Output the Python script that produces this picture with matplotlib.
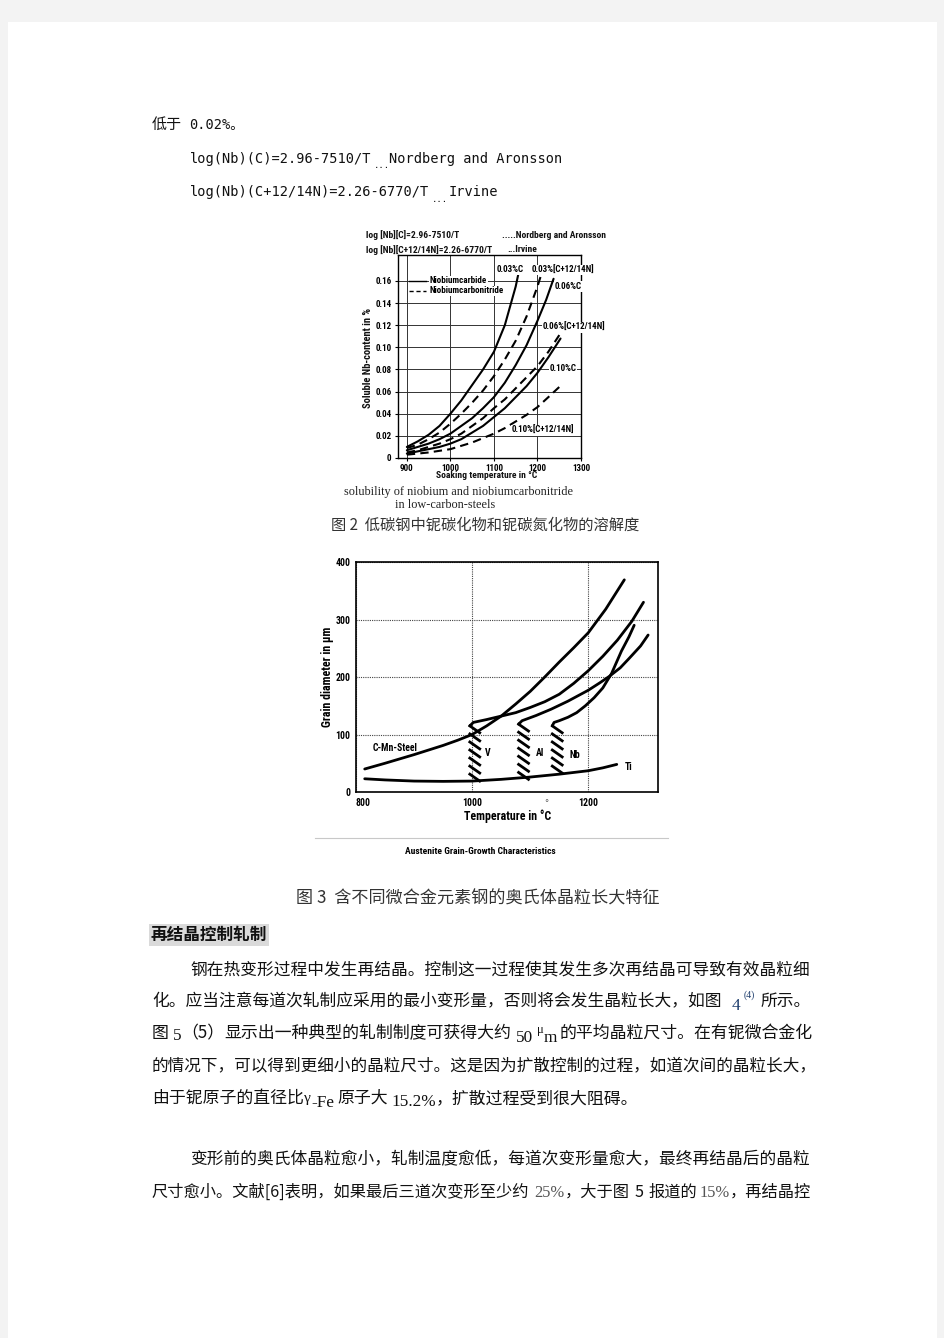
import matplotlib
matplotlib.use('Agg')
import matplotlib.pyplot as plt
from matplotlib import font_manager
from matplotlib.patches import Rectangle

W, H = 945, 1338

# ---------------- figure 2 : solubility of Nb ----------------
t_003c = [900, 925, 950, 975, 1000, 1025, 1050, 1075, 1100, 1125, 1150, 1157]
nb_003c = [0.010, 0.015, 0.021, 0.029, 0.040, 0.052, 0.066, 0.080, 0.096, 0.120, 0.155, 0.168]
t_003n = [900, 925, 950, 975, 1000, 1025, 1050, 1075, 1100, 1125, 1150, 1175, 1200, 1212]
nb_003n = [0.009, 0.012, 0.017, 0.023, 0.031, 0.040, 0.050, 0.061, 0.074, 0.089, 0.106, 0.128, 0.155, 0.170]
t_006c = [900, 925, 950, 975, 1000, 1025, 1050, 1075, 1100, 1125, 1150, 1175, 1200, 1220, 1237]
nb_006c = [0.007, 0.010, 0.013, 0.017, 0.022, 0.029, 0.036, 0.045, 0.055, 0.068, 0.084, 0.102, 0.124, 0.143, 0.162]
t_006n = [900, 925, 950, 975, 1000, 1025, 1050, 1075, 1100, 1125, 1150, 1175, 1200, 1225, 1255]
nb_006n = [0.005, 0.007, 0.010, 0.013, 0.017, 0.022, 0.029, 0.036, 0.045, 0.053, 0.063, 0.073, 0.083, 0.096, 0.114]
t_010c = [900, 925, 950, 975, 1000, 1025, 1050, 1075, 1100, 1125, 1150, 1175, 1200, 1225, 1253]
nb_010c = [0.004, 0.006, 0.008, 0.010, 0.013, 0.017, 0.023, 0.029, 0.037, 0.045, 0.055, 0.065, 0.077, 0.091, 0.108]
t_010n = [900, 950, 1000, 1050, 1100, 1125, 1150, 1175, 1200, 1225, 1255]
nb_010n = [0.003, 0.005, 0.008, 0.014, 0.022, 0.027, 0.033, 0.039, 0.046, 0.055, 0.066]

sol_xticks = [900, 1000, 1100, 1200, 1300]
sol_yticks = [0, 0.02, 0.04, 0.06, 0.08, 0.10, 0.12, 0.14, 0.16]
sol_ylabels = ['0', '0.02', '0.04', '0.06', '0.08', '0.10', '0.12', '0.14', '0.16']

# curve labels: text, T, content
sol_names = ['0.03%C', '0.03%[C+12/14N]', '0.06%C', '0.06%[C+12/14N]', '0.10%C', '0.10%[C+12/14N]']
sol_name_t = [1107, 1186, 1240, 1212, 1228, 1141]
sol_name_nb = [0.170, 0.170, 0.155, 0.118, 0.081, 0.025]

# ---------------- figure 3 : austenite grain growth ----------------
t_cmn = [815, 850, 900, 950, 975, 1000, 1025, 1050, 1075, 1100, 1125, 1150, 1175, 1200, 1230, 1262]
d_cmn = [40, 50, 65, 81, 90, 100, 115, 132, 153, 175, 200, 226, 251, 277, 318, 369]
t_v = [996, 1002, 1025, 1050, 1075, 1100, 1125, 1150, 1175, 1200, 1225, 1250, 1275, 1295]
d_v = [115, 121, 126, 132, 138, 147, 157, 170, 189, 211, 236, 264, 297, 330]
t_al = [1080, 1086, 1110, 1136, 1165, 1200, 1220, 1236, 1255, 1270, 1290, 1303]
d_al = [118, 124, 133, 144, 158, 177, 190, 201, 216, 232, 254, 273]
t_nb = [1138, 1141, 1150, 1165, 1180, 1195, 1210, 1225, 1240, 1257, 1270, 1279]
d_nb = [115, 121, 124, 130, 138, 150, 164, 181, 206, 245, 270, 290]
t_ti = [815, 850, 900, 950, 1000, 1050, 1100, 1150, 1200, 1225, 1249]
d_ti = [23, 21, 19, 18.5, 19, 22, 26, 31, 37, 42, 48]

# coarsening hatch columns (start T, top diameter, strokes)
hatch_t = [996, 1080, 1138]
hatch_top = [115, 118, 115]
hatch_n = [7, 7, 6]

gg_names = ['C-Mn-Steel', 'V', 'Al', 'Nb', 'Ti']
gg_name_t = [829, 1022, 1110, 1168, 1262]
gg_name_d = [77, 67, 67, 64, 43]

# narrow bold face for the scanned chart lettering, if one is installed
names = {f.name for f in font_manager.fontManager.ttflist}
narrow, shrink = None, 1.0
for cand in ['Roboto Condensed', 'Open Sans Condensed', 'Liberation Sans Narrow',
             'Noto Sans Condensed', 'DejaVu Sans Condensed']:
    if cand in names:
        narrow = dict(family=[cand, 'DejaVu Sans'], fontweight='bold')
        break
if narrow is None:
    narrow = dict(family=['Liberation Sans', 'DejaVu Sans'], fontweight='bold')
    shrink = 0.82

cjk = ['Noto Sans CJK SC', 'DejaVu Sans']
serif = ['Liberation Serif', 'Noto Sans CJK SC']
mono = ['DejaVu Sans Mono', 'Noto Sans CJK SC']

fig = plt.figure(figsize=(W / 100, H / 100), dpi=100)
fig.patch.set_facecolor('#f3f3f3')
fig.add_artist(Rectangle((8 / W, 0), (937 - 8) / W, 1 - 22 / H, transform=fig.transFigure,
                         facecolor='white', edgecolor='none', zorder=0))
renderer = fig.canvas.get_renderer()


def put(x, y, s, **kw):
    kw.setdefault('va', 'center')
    return fig.text(x / W, 1 - y / H, s, **kw)


def lay(x, y, pieces, scale):
    texts = []
    for s, kw in pieces:
        kw = dict(kw)
        gap = kw.pop('gap', 0) * scale
        dy = kw.pop('dy', 0)
        kw['fontsize'] = kw['fontsize'] * scale
        x += gap
        t = fig.text(x / W, 1 - (y + dy) / H, s, va='baseline', **kw)
        x += t.get_window_extent(renderer).width
        texts.append(t)
    return x, texts


def run(x, y, pieces, end=None):
    # lay text pieces left to right on one baseline y (pixels), stretched to end
    stop, texts = lay(x, y, pieces, 1.0)
    if end is None:
        return
    for t in texts:
        t.remove()
    lay(x, y, pieces, (end - x) / (stop - x))


def nfont(size):
    return dict(narrow, fontsize=size * shrink)


# ---- top text ----
body = dict(family=cjk, fontsize=12.05, color='#111')
put(152, 125, '低于', family=cjk, fontsize=10.8, color='#111')
put(189, 125, '0.02%。', family=mono, fontsize=9.8, color='#111')
put(190, 159, 'log(Nb)(C)=2.96-7510/T', family=mono, fontsize=9.8, color='#111')
put(374, 166, '...', family=mono, fontsize=6.5, color='#111')
put(389, 159, 'Nordberg and Aronsson', family=mono, fontsize=9.8, color='#111')
put(190, 192, 'log(Nb)(C+12/14N)=2.26-6770/T', family=mono, fontsize=9.8, color='#111')
put(432, 199, '...', family=mono, fontsize=6.5, color='#111')
put(449, 192, 'Irvine', family=mono, fontsize=9.8, color='#111')

# ---- chart 1 ----
ax1 = fig.add_axes([397.7 / W, 1 - 458 / H, (581 - 397.7) / W, (458 - 255) / H])
solid = dict(color='black', lw=1.5, solid_capstyle='round')
dash = dict(color='black', lw=1.5, dashes=(4, 2.5))
ax1.plot(t_003c, nb_003c, **solid)
ax1.plot(t_003n, nb_003n, **dash)
ax1.plot(t_006c, nb_006c, **solid)
ax1.plot(t_006n, nb_006n, **dash)
ax1.plot(t_010c, nb_010c, **solid)
ax1.plot(t_010n, nb_010n, **dash)
ax1.set_xlim(879, 1300)
ax1.set_ylim(0, 0.1835)
ax1.set_xticks(sol_xticks)
ax1.set_yticks(sol_yticks, sol_ylabels)
ax1.grid(True, color='#333', lw=0.7)
ax1.tick_params(direction='out', length=2.5, width=0.8, pad=2)
for lab in ax1.get_xticklabels() + ax1.get_yticklabels():
    lab.set(**nfont(6.5))
for sp in ax1.spines.values():
    sp.set_linewidth(1.0)
for name, t, v in zip(sol_names, sol_name_t, sol_name_nb):
    ax1.text(t, v, name, va='center', clip_on=False,
             bbox=dict(facecolor='white', edgecolor='none', pad=0.5), **nfont(6.5))
# legend
ax1.plot([905, 945], [0.160, 0.160], color='black', lw=1.0)
ax1.plot([905, 945], [0.151, 0.151], color='black', lw=1.0, dashes=(3, 2))
ax1.text(953, 0.160, 'Niobiumcarbide', va='center',
         bbox=dict(facecolor='white', edgecolor='none', pad=0.3), **nfont(6.5))
ax1.text(953, 0.151, 'Niobiumcarbonitride', va='center',
         bbox=dict(facecolor='white', edgecolor='none', pad=0.3), **nfont(6.5))

hdr = dict(nfont(6.8), color='#111')
put(366, 235, 'log [Nb][C]=2.96-7510/T', **hdr)
put(502, 235, '.....Nordberg and Aronsson', **hdr)
put(366, 250, 'log [Nb][C+12/14N]=2.26-6770/T', **hdr)
put(507, 250, '...Irvine', **hdr)
put(368, 358, 'Soluble Nb-content in %', rotation=90, ha='center', **dict(hdr, fontsize=7.6 * shrink))
put(487, 476, 'Soaking temperature in °C', ha='center', **hdr)

put(459, 492, 'solubility of niobium and niobiumcarbonitride', family=serif, fontsize=8.8,
    ha='center', color='#222')
put(445, 505, 'in low-carbon-steels', family=serif, fontsize=8.8, ha='center', color='#222')
put(485, 525, '图 2  低碳钢中铌碳化物和铌碳氮化物的溶解度', family=cjk, fontsize=11,
    ha='center', color='#333')

# ---- chart 2 ----
ax2 = fig.add_axes([356 / W, 1 - 792 / H, 302 / W, (792 - 562) / H])
thick = dict(color='black', lw=2.0, solid_capstyle='round', solid_joinstyle='round')
ax2.plot(t_cmn, d_cmn, **thick)
ax2.plot(t_v, d_v, **thick)
ax2.plot(t_al, d_al, **thick)
ax2.plot(t_nb, d_nb, **thick)
ax2.plot(t_ti, d_ti, **thick)
for t0, top, n in zip(hatch_t, hatch_top, hatch_n):
    for k in range(n):
        y0 = top - 14 * k
        ax2.plot([t0, t0 + 17], [y0, y0 - 12], color='black', lw=2.0)
ax2.set_xlim(800, 1320)
ax2.set_ylim(0, 400)
ax2.set_xticks([800, 1000, 1200])
ax2.set_yticks([0, 100, 200, 300, 400])
ax2.grid(True, color='#444', lw=0.8, ls=(0, (1, 1)))
ax2.tick_params(length=0, pad=4)
for lab in ax2.get_xticklabels() + ax2.get_yticklabels():
    lab.set(**nfont(7))
ax2.get_xticklabels()[0].set_ha('left')
for sp in ax2.spines.values():
    sp.set_linewidth(1.2)
for name, t, v in zip(gg_names, gg_name_t, gg_name_d):
    ax2.text(t, v, name, va='center', **nfont(7))

put(328, 677, 'Grain diameter in µm', rotation=90, ha='center', **nfont(8.6))
put(508, 816, 'Temperature in °C', ha='center', **nfont(8.6))
put(546, 804, '°', ha='center', fontsize=6, color='#555')
fig.add_artist(plt.Line2D([315 / W, 668 / W], [1 - 838 / H, 1 - 838 / H], color='#c8c8c8', lw=0.8))
put(480, 851, 'Austenite Grain-Growth Characteristics', ha='center', **nfont(6.8))
put(478, 899, '图 3  含不同微合金元素钢的奥氏体晶粒长大特征', family=cjk, fontsize=12.3,
    ha='center', color='#333')

# ---- body text ----
put(151, 935, '再结晶控制轧制', family=cjk, fontsize=12, fontweight='bold', color='#111',
    bbox=dict(facecolor='#dadada', edgecolor='none', pad=1.5))

num = dict(family=serif, fontsize=12.3, color='#111')
run(190, 974, [('钢在热变形过程中发生再结晶。控制这一过程使其发生多次再结晶可导致有效晶粒细', body)], 808)
run(152, 1006, [('化。应当注意每道次轧制应采用的最小变形量，否则将会发生晶粒长大，如图', body),
                ('4', dict(num, color='#1d3d6d', gap=10, dy=4)),
                ('(4)', dict(family=serif, fontsize=7, color='#1d3d6d', gap=3, dy=-8)),
                ('所示。', dict(body, gap=6))], 811)
run(152, 1038, [('图', body),
                ('5', dict(num, gap=4, dy=2)),
                ('（5）', body),
                ('显示出一种典型的轧制制度可获得大约', body),
                ('50', dict(num, gap=4, dy=4)),
                ('μ', dict(family=serif, fontsize=9, color='#111', gap=4, dy=-5)),
                ('m', dict(num, dy=4)),
                ('的平均晶粒尺寸。在有铌微合金化', dict(body, gap=3))], 816)
run(152, 1070, [('的情况下，可以得到更细小的晶粒尺寸。这是因为扩散控制的过程，如道次间的晶粒长大，', body)], 816)
run(152, 1103, [('由于铌原子的直径比', body),
                ('γ', dict(family=serif, fontsize=11, color='#111', dy=-1)),
                ('-Fe', dict(num, dy=4, gap=1)),
                ('原子大', dict(body, gap=3)),
                ('15.2%', dict(num, dy=3, gap=3)),
                ('，扩散过程受到很大阻碍。', body)], 640)
run(190, 1164, [('变形前的奥氏体晶粒愈小，轧制温度愈低，每道次变形量愈大，最终再结晶后的晶粒', body)], 808)
run(152, 1197, [('尺寸愈小。文献[6]表明，如果最后三道次变形至少约', body),
                ('25%', dict(num, color='#555', gap=5)),
                ('，大于图', body),
                ('5', dict(body, gap=5)),
                ('报道的', dict(body, gap=5)),
                ('15%', dict(num, color='#555', gap=3)),
                ('，再结晶控', body)], 812)

fig.savefig('out.png', dpi=100, facecolor=fig.get_facecolor())
